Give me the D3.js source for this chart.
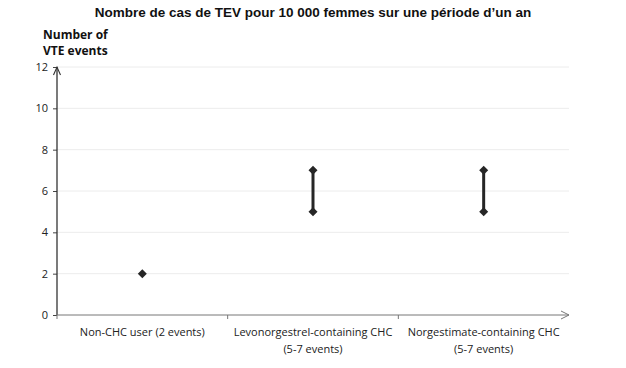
<!DOCTYPE html>
<html><head><meta charset="utf-8">
<script src="https://cdn.jsdelivr.net/npm/d3@7"></script>
<style>body{margin:0;background:#fff}svg{display:block}</style>
</head><body>
<svg id="c" width="626" height="368"></svg>
<script>
const categories = ["Non-CHC user (2 events)", "Levonorgestrel-containing CHC|(5-7 events)", "Norgestimate-containing CHC|(5-7 events)"];
const lowValues = [2, 5, 5];
const highValues = [2, 7, 7];
const yTicks = [0, 2, 4, 6, 8, 10, 12];
const title = "Nombre de cas de TEV pour 10 000 femmes sur une période d’un an";
const yTitle = ["Number of", "VTE events"];

const svg = d3.select("#c");
const m = {l: 57, r: 57, t: 67, b: 53};
const W = 626, H = 368;
const x = d3.scaleBand().domain(categories).range([m.l, W - m.r]).padding(0);
const y = d3.scaleLinear().domain([0, 12]).range([H - m.b, m.t]);
const font = "'Open Sans', 'Noto Sans', sans-serif";

// gridlines
svg.append("g").selectAll("line").data(yTicks.filter(d => d > 0)).join("line")
  .attr("x1", m.l).attr("x2", W - m.r)
  .attr("y1", d => y(d)).attr("y2", d => y(d))
  .attr("stroke", "#ececec").attr("stroke-width", 1);

// y axis
const ya = svg.append("g").attr("transform", `translate(${m.l},0)`)
  .call(d3.axisLeft(y).tickValues(yTicks).tickSize(4).tickPadding(5));
ya.select(".domain").remove();
ya.selectAll("line").attr("stroke", "#444");
ya.selectAll("text").attr("font-family", font).attr("font-size", 11).attr("fill", "#222");
svg.append("line").attr("x1", m.l).attr("x2", m.l).attr("y1", y(0)).attr("y2", y(12))
  .attr("stroke", "#333").attr("stroke-width", 1.3);
svg.append("path").attr("d", `M${m.l-3.5},${y(12)+8} L${m.l},${y(12)} L${m.l+3.5},${y(12)+8}`)
  .attr("fill", "none").attr("stroke", "#333").attr("stroke-width", 1.1);

// x axis
const xe = W - m.r;
svg.append("line").attr("x1", m.l).attr("x2", xe).attr("y1", y(0)).attr("y2", y(0))
  .attr("stroke", "#777").attr("stroke-width", 1);
svg.append("path").attr("d", `M${xe-8},${y(0)-4} L${xe},${y(0)} L${xe-8},${y(0)+4}`)
  .attr("fill", "none").attr("stroke", "#777").attr("stroke-width", 1);
svg.append("g").selectAll("line").data(categories.slice(1)).join("line")
  .attr("x1", d => x(d)).attr("x2", d => x(d))
  .attr("y1", y(0)).attr("y2", y(0) + 4).attr("stroke", "#777");
svg.append("line").attr("x1", m.l).attr("x2", m.l).attr("y1", y(0)).attr("y2", y(0) + 4).attr("stroke", "#777");

// category labels
const cl = svg.append("g").selectAll("text").data(categories).join("text")
  .attr("x", d => x(d) + x.bandwidth() / 2).attr("y", y(0) + 21)
  .attr("text-anchor", "middle").attr("font-family", font).attr("font-size", 11).attr("fill", "#222");
cl.each(function(d) {
  const parts = d.split("|");
  parts.forEach((p, i) => d3.select(this).append("tspan")
    .attr("x", x(d) + x.bandwidth() / 2).attr("dy", i === 0 ? 0 : 17).text(p));
});

// ranges
const data = categories.map((c, i) => ({c, lo: lowValues[i], hi: highValues[i]}));
svg.append("g").selectAll("line").data(data.filter(d => d.hi > d.lo)).join("line")
  .attr("x1", d => x(d.c) + x.bandwidth() / 2).attr("x2", d => x(d.c) + x.bandwidth() / 2)
  .attr("y1", d => y(d.lo)).attr("y2", d => y(d.hi))
  .attr("stroke", "#262626").attr("stroke-width", 3);
const pts = [];
data.forEach(d => { pts.push({c: d.c, v: d.lo}); if (d.hi !== d.lo) pts.push({c: d.c, v: d.hi}); });
svg.append("g").selectAll("path").data(pts).join("path")
  .attr("transform", d => `translate(${x(d.c) + x.bandwidth() / 2},${y(d.v)})`)
  .attr("d", "M0,-4.5 L4.5,0 L0,4.5 L-4.5,0 Z").attr("fill", "#262626");

// titles
svg.append("text").attr("x", 313).attr("y", 17).attr("text-anchor", "middle")
  .attr("font-family", "'Liberation Sans', Arial, sans-serif").attr("font-weight", "bold")
  .attr("font-size", 13.5).attr("fill", "#111").text(title);
svg.append("g").selectAll("text").data(yTitle).join("text")
  .attr("x", 43).attr("y", (d, i) => 39 + i * 16)
  .attr("font-family", font).attr("font-weight", "bold").attr("font-size", 12).attr("fill", "#111")
  .text(d => d);
</script>
</body></html>
